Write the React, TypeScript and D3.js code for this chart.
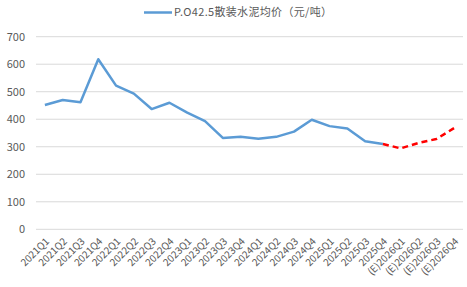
import React from "react";
import * as d3 from "d3";

const categories = [
  "2021Q1","2021Q2","2021Q3","2021Q4",
  "2022Q1","2022Q2","2022Q3","2022Q4",
  "2023Q1","2023Q2","2023Q3","2023Q4",
  "2024Q1","2024Q2","2024Q3","2024Q4",
  "2025Q1","2025Q2","2025Q3","2025Q4",
  "(E)2026Q1","(E)2026Q2","(E)2026Q3","(E)2026Q4",
];
const actualValues = [452, 470, 462, 618, 522, 493, 437, 460, 424, 393, 332, 336, 329, 336, 355, 398, 375, 366, 320, 310];
const forecastValues = [310, 294, 314, 328, 368]; // from 2025Q4 onward
const yTicks = [0, 100, 200, 300, 400, 500, 600, 700];
const legendLabel = "P.O42.5散装水泥均价（元/吨）";

export default function App() {
  const W = 467, H = 287;
  const left = 36, right = 463, top = 36.7, bottom = 229.3;
  const x = d3.scaleBand<string>().domain(categories).range([left, right]);
  const cx = (c: string) => (x(c) as number) + x.bandwidth() / 2;
  const y = d3.scaleLinear().domain([0, 700]).range([bottom, top]);
  const line = d3.line<[string, number]>().x(d => cx(d[0])).y(d => y(d[1]));
  const actual = actualValues.map((v, i) => [categories[i], v] as [string, number]);
  const fcStart = actualValues.length - 1;
  const forecast = forecastValues.map((v, i) => [categories[fcStart + i], v] as [string, number]);
  const font = "'Microsoft YaHei', 'Noto Sans CJK SC', 'DejaVu Sans', sans-serif";
  return (
    <svg width={W} height={H} style={{ position: "absolute", left: 0, top: 0, background: "#fff" }}>
      {yTicks.map(t => (
        <g key={t}>
          <line x1={left} x2={right} y1={y(t)} y2={y(t)} stroke="#d9d9d9" strokeWidth={1} />
          <text x={25} y={y(t)} dy="0.35em" textAnchor="end" fontSize={11} fill="#595959" fontFamily={font}>{t}</text>
        </g>
      ))}
      {categories.map(c => (
        <text key={c} transform={`translate(${cx(c) + 5},${242}) rotate(-45)`} textAnchor="end" fontSize={10} fill="#595959" fontFamily={font}>{c}</text>
      ))}
      <path d={line(actual) || ""} fill="none" stroke="#5B9BD5" strokeWidth={2.5} strokeLinejoin="round" />
      <path d={line(forecast) || ""} fill="none" stroke="#FF0000" strokeWidth={2.5} strokeDasharray="6,4" strokeLinejoin="round" />
      <line x1={144} x2={172} y1={12.5} y2={12.5} stroke="#5B9BD5" strokeWidth={2.5} />
      <text x={174} y={12.5} dy="0.35em" fontSize={11} fill="#595959" fontFamily={font} textLength={158} lengthAdjust="spacing">{legendLabel}</text>
    </svg>
  );
}
